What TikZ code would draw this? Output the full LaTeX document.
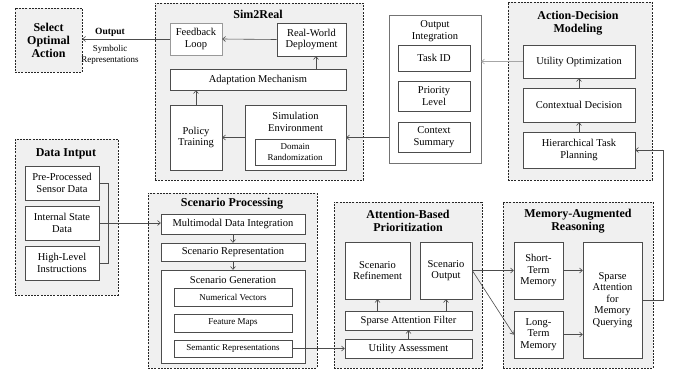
\documentclass[tikz,border=0pt]{standalone}
\usepackage{fontspec}
\setmainfont{Liberation Serif}
\usepackage{tikz}
\usetikzlibrary{calc,positioning,arrows.meta}
\tikzset{
    every node/.style={
        font=\fontsize{10.5}{11.5}\selectfont
    },
    group/.style={
        shape=rectangle,
        draw=black!85,
        dash pattern=on 2pt off 1.2pt,
        line width=0.7pt,
        fill=gray!12
    },
    block/.style={
        shape=rectangle,
        draw=black!70,
        fill=white,
        line width=0.6pt,
        align=center,
        inner sep=1pt
    },
    grouptitle/.style={
        font=\fontsize{12}{13}\selectfont\bfseries,
        align=center
    },
    flow/.style={
        -{To[length=3.5pt,width=5.5pt]},
        draw=black!70,
        line width=0.6pt
    }
}

\begin{document}
\begin{tikzpicture}[
		x=1pt, y=-1pt,
		small/.style={font=\fontsize{9}{10.5}\selectfont}
		]
		\useasboundingbox (0,0) rectangle (675,373);

		% groups
		\node (sel) at (48.5,40) [group, minimum width=67, minimum height=64, grouptitle] {Select\\Optimal\\Action};
		\node (s2r) at (259,91.5) [group, minimum width=208, minimum height=177] {};
		\node (adm) at (580,91) [group, minimum width=144, minimum height=178] {};
		\node (din) at (66.5,217) [group, minimum width=103, minimum height=156] {};
		\node (spr) at (232.5,280.5) [group, minimum width=169, minimum height=175] {};
		\node (abp) at (408,285) [group, minimum width=148, minimum height=166] {};
		\node (mar) at (578,285) [group, minimum width=150, minimum height=166] {};

		\node (s2rt) at (258,14) [grouptitle] {Sim2Real};
		\node (admt) at (578,23) [grouptitle] {Action-Decision\\Modeling};
		\node (dint) at (66,154) [grouptitle] {Data Intput};
		\node (sprt) at (232,204) [grouptitle] {Scenario Processing};
		\node (abpt) at (408,221) [grouptitle] {Attention-Based\\Prioritization};
		\node (mart) at (578,221) [grouptitle] {Memory-Augmented\\Reasoning};

		% output
		\node (outl) at (110,32) [font=\fontsize{9.5}{10.5}\selectfont\bfseries] {Output};
		\node (syml) at (110,55) [small, align=center] {Symbolic\\Representations};

		% sim2real
		\node (fb) at (196,39) [block, draw=black!40, minimum width=52, minimum height=32] {Feedback\\Loop};
		\node (rw) at (311.5,39.5) [block, minimum width=69, minimum height=33] {Real-World\\Deployment};
		\node (adapt) at (258,79.5) [block, minimum width=176, minimum height=21] {Adaptation Mechanism};
		\node (pol) at (196,137.5) [block, minimum width=52, minimum height=65] {Policy\\Training};
		\node (sim) at (295.5,137.5) [block, minimum width=101, minimum height=65] {};
		\node (simt) at (295.5,122) [align=center] {Simulation\\Environment};
		\node (dr) at (295,152) [block, small, minimum width=80, minimum height=26] {Domain\\Randomization};

		% output integration
		\node (oi) at (435,89) [block, draw=black!55, minimum width=92, minimum height=148] {};
		\node (oit) at (435,31) [align=center] {Output\\Integration};
		\node (tid) at (434,58) [block, minimum width=72, minimum height=26] {Task ID};
		\node (prl) at (434,96) [block, minimum width=72, minimum height=30] {Priority\\Level};
		\node (ctx) at (434,137) [block, minimum width=72, minimum height=30] {Context\\Summary};

		% action-decision
		\node (uo) at (579,61.5) [block, minimum width=112, minimum height=33] {Utility Optimization};
		\node (cd) at (579,105) [block, minimum width=112, minimum height=34] {Contextual Decision};
		\node (htp) at (579,150) [block, minimum width=112, minimum height=36] {Hierarchical Task\\Planning};

		% data input
		\node (pps) at (62,183) [block, minimum width=74, minimum height=34] {Pre-Processed\\Sensor Data};
		\node (isd) at (62,223) [block, minimum width=74, minimum height=34] {Internal State\\Data};
		\node (hli) at (62,263) [block, minimum width=74, minimum height=34] {High-Level\\Instructions};

		% scenario processing
		\node (mdi) at (233,224) [block, minimum width=144, minimum height=20] {Multimodal Data Integration};
		\node (srep) at (233,252) [block, minimum width=144, minimum height=18] {Scenario Representation};
		\node (sgen) at (233,316.5) [block, minimum width=144, minimum height=93] {};
		\node (sgent) at (233,280) {Scenario Generation};
		\node (nv) at (233,297) [block, small, minimum width=118, minimum height=18] {Numerical Vectors};
		\node (fm) at (233,323) [block, small, minimum width=118, minimum height=18] {Feature Maps};
		\node (sem) at (233,348.5) [block, small, minimum width=118, minimum height=17] {Semantic Representations};

		% attention
		\node (sref) at (377.5,270.5) [block, minimum width=65, minimum height=57] {Scenario\\Refinement};
		\node (sout) at (446,270.5) [block, minimum width=52, minimum height=57] {Scenario\\Output};
		\node (saf) at (408.5,320.5) [block, minimum width=127, minimum height=19] {Sparse Attention Filter};
		\node (ua) at (408.5,348.5) [block, minimum width=127, minimum height=19] {Utility Assessment};

		% memory
		\node (stm) at (538.5,270.5) [block, minimum width=49, minimum height=57] {Short-\\Term\\Memory};
		\node (ltm) at (538.5,334.5) [block, minimum width=49, minimum height=47] {Long-\\Term\\Memory};
		\node (samq) at (612.5,300) [block, minimum width=59, minimum height=116] {Sparse\\Attention\\for\\Memory\\Querying};

		\draw [flow] (fb.west) -- (fb.west -| sel.east);
		\draw [flow] (rw.west) -- (fb.east);
		\draw [flow] ($(adapt.north -| rw.south)+(4.5,0)$) -- ($(rw.south)+(4.5,0)$);
		\draw [flow] (pol.north) -- (pol.north |- adapt.south);
		\draw [flow] (sim.west) -- (pol.east);
		\draw [flow] (sim.east -| oi.west) -- (sim.east);
		\draw [flow, draw=black!35] (uo.west) -- (uo.west -| oi.east);
		\draw [flow] (cd.north) -- (uo.south);
		\draw [flow] (htp.north) -- (cd.south);

		\draw [draw=black!70, line width=0.6pt] (pps.east) -- ++(9,0) |- (hli.east);
		\draw [flow] (isd.east) -- (isd.east -| mdi.west);
		\draw [flow] (mdi.south) -- (srep.north);
		\draw [flow] (srep.south) -- (sgen.north);
		\draw [flow] (sem.east) -- (sem.east -| ua.west);

		\draw [flow] (ua.north) -- (saf.south);
		\draw [flow] (saf.north -| sref.south) -- (sref.south);
		\draw [flow] (saf.north -| sout.south) -- (sout.south);
		\draw [flow] (sout.east) -- (sout.east -| stm.west);
		\draw [flow] (sout.east) -- (ltm.west);

		\draw [flow] (stm.east) -- (stm.east -| samq.west);
		\draw [flow] (ltm.east) -- (ltm.east -| samq.west);
		\draw [flow] (samq.east) -- ++(21,0) |- (htp.east);
	\end{tikzpicture}
\end{document}
